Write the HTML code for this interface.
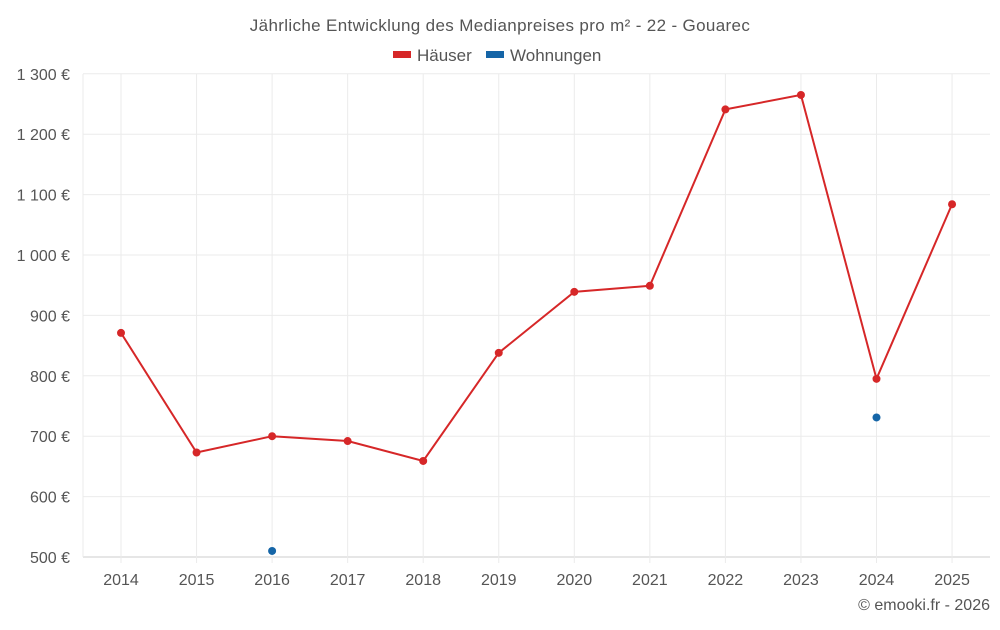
<!DOCTYPE html>
<html><head><meta charset="utf-8"><style>
body{margin:0;background:#fff;font-family:"Liberation Sans",sans-serif;}
svg text{font-family:"Liberation Sans",sans-serif;fill:#555;}
</style></head><body>
<svg id="c" width="1000" height="625">
<text x="500" y="31" text-anchor="middle" font-size="17" letter-spacing="0.35">Jährliche Entwicklung des Medianpreises pro m² - 22 - Gouarec</text>
<g>
<g><rect x="393" y="51" width="18" height="7" fill="#d62728"/><text x="417" y="61" font-size="17">Häuser</text></g>
<g><rect x="486" y="51" width="18" height="7" fill="#1565a7"/><text x="510" y="61" font-size="17">Wohnungen</text></g>
</g>
<g id="grid"></g><g id="axes"></g><g id="marks"></g>
<text x="990" y="610" text-anchor="end" font-size="16">© emooki.fr - 2026</text>
</svg>
<script>
const years=[2014,2015,2016,2017,2018,2019,2020,2021,2022,2023,2024,2025];
const houses=[871,673,700,692,659,838,939,949,1241,1265,795,1084];
const flats=[null,null,510,null,null,null,null,null,null,null,731,null];
const yTicks=[500,600,700,800,900,1000,1100,1200,1300];
const yLabels=["500 €","600 €","700 €","800 €","900 €","1 000 €","1 100 €","1 200 €","1 300 €"];
const NS="http://www.w3.org/2000/svg";
function x(i){return 121+i*75.55;}
function y(v){return 557-(v-500)*0.604;}
function mk(t,a,p){const e=document.createElementNS(NS,t);for(const k in a)e.setAttribute(k,a[k]);p.appendChild(e);return e;}
const g=document.getElementById('grid'),ax=document.getElementById('axes'),m=document.getElementById('marks');
yTicks.forEach((v,i)=>{
 const l=mk('line',{x1:83,x2:990,y1:y(v),y2:y(v),stroke:i==0?'#ccc':'#ebebeb'},g);
 
 
 const t=mk('text',{x:70,y:y(v)+6,'text-anchor':'end','font-size':16},ax);t.textContent=yLabels[i];
 
 
});
mk('line',{x1:83,x2:83,y1:74,y2:557,stroke:'#ebebeb'},g);
years.forEach((yr,i)=>{
 const l=mk('line',{x1:x(i),x2:x(i),y1:74,y2:563,stroke:'#ebebeb'},g);
 
 
 const t=mk('text',{x:x(i),y:585,'text-anchor':'middle','font-size':16},ax);t.textContent=yr;
 
 
});
const p=mk('polyline',{points:houses.map((v,i)=>x(i)+','+y(v)).join(' '),fill:'none',stroke:'#d62728','stroke-width':2},m);


houses.forEach((v,i)=>{const c=mk('circle',{cx:x(i),cy:y(v),r:4,fill:'#d62728'},m);
 
 });
flats.forEach((v,i)=>{if(v==null)return;const c=mk('circle',{cx:x(i),cy:y(v),r:4,fill:'#1565a7'},m);
 
 });
</script>
</body></html>
